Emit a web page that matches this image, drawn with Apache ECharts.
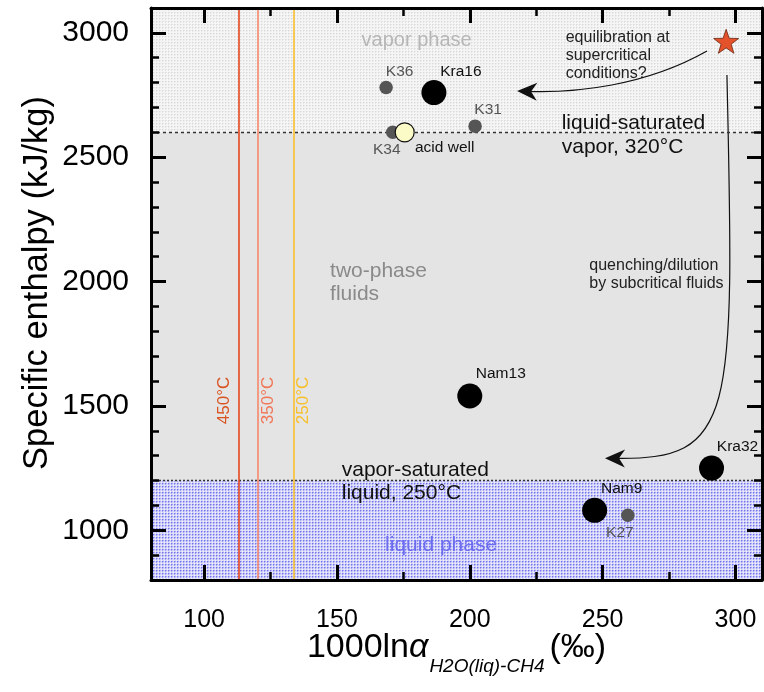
<!DOCTYPE html>
<html>
<head>
<meta charset="utf-8">
<style>
  html, body { margin: 0; padding: 0; background: #fff; }
  #chart { width: 764px; height: 692px; }
</style>
</head>
<body>
<div id="chart"></div>
<script src="https://cdn.jsdelivr.net/npm/echarts@6/dist/echarts.min.js"></script>
<script>
// axes
var xRange = [80, 310];
var yRange = [800, 3100];
var xMajorTicks = [100, 150, 200, 250, 300];
var xMinorTicks = [125, 175, 225, 275];
var yMajorTicks = [1000, 1500, 2000, 2500, 3000];
var yMinorTicks = [900, 1100, 1200, 1300, 1400, 1600, 1700, 1800, 1900,
                   2100, 2200, 2300, 2400, 2600, 2700, 2800, 2900];

// phase boundaries (kJ/kg)
var liquidSatEnthalpy = 1200; // vapor-saturated liquid, 250°C
var vaporSatEnthalpy = 2600;  // liquid-saturated vapor, 320°C

// equilibrium fractionation lines
var tempNames = ['450°C', '350°C', '250°C'];
var tempValues = [113.1, 120.2, 133.7];

// samples
var bigNames = ['Kra16', 'Nam13', 'Kra32', 'Nam9'];
var bigX = [186.5, 200, 291, 247];
var bigY = [2760, 1540, 1250, 1080];
var smallNames = ['K36', 'K34', 'K31', 'K27'];
var smallX = [168.5, 171, 202, 259.5];
var smallY = [2780, 2600, 2625, 1060];
var acidNames = ['acid well'];
var acidX = [175.5];
var acidY = [2600];
var superX = [296.5];
var superY = [2966];

// annotations (data coords)
var noteTexts = ['vapor phase', 'two-phase\nfluids', 'liquid phase',
  'liquid-saturated\nvapor, 320°C', 'vapor-saturated\nliquid, 250°C',
  'equilibration at\nsupercritical\nconditions?', 'quenching/dilution\nby subcritical fluids'];
var noteX = [180, 147.4, 189.2, 234.6, 151.8, 236.1, 245];
var noteY = [2971, 1994, 941, 2589, 1194, 2907, 2030];
var tempLabelX = [107.6, 124.1, 137.4];
var tempLabelY = [1522, 1522, 1522];
var arrowPaths = [
  [289.3, 2927, 266, 2786, 239.6, 2758, 217.8, 2766],
  [296.8, 2831, 299.8, 1443, 299.8, 1282, 250.9, 1290]
];

var font = 'Liberation Sans';
var tempColors = ['#e4471d', '#f6886a', '#f8c12e'];
var tempTextColors = ['#d9521f', '#f07656', '#f7bf2a'];

var noteStyle = [
  {color: '#b6b6b6', size: 20, align: 'center', lh: 22},
  {color: '#8a8a8a', size: 21, align: 'left', lh: 23},
  {color: '#6c6cf0', size: 21, align: 'center', lh: 23},
  {color: '#111', size: 21, align: 'left', lh: 24},
  {color: '#111', size: 21, align: 'left', lh: 23},
  {color: '#222', size: 16, align: 'left', lh: 18},
  {color: '#222', size: 16, align: 'left', lh: 18}
];

var labelOffset = {
  'K36': [13.5, -16], 'K34': [-6, 17], 'acid well': [40, 15], 'Kra16': [27, -21],
  'K31': [13, -16], 'Nam13': [31, -22], 'Kra32': [26, -21], 'Nam9': [27, -21.5], 'K27': [-8, 17]
};

function pattern(base, dots) {
  var c = document.createElement('canvas');
  c.width = 3; c.height = 3;
  var g = c.getContext('2d');
  g.fillStyle = base;
  g.fillRect(0, 0, 3, 3);
  dots.forEach(function (d) {
    g.fillStyle = d[2];
    g.fillRect(d[0], d[1], 1, 1);
  });
  return c;
}
var vaporFill = {image: pattern('#f5f5f5', [[0, 0, '#d9d9d9'], [1, 0, '#e7e7e7'], [0, 1, '#e7e7e7']]), repeat: 'repeat'};
var liquidFill = {image: pattern('#d8d8f8', [[0, 0, '#7272f0'], [1, 0, '#a8a8f4'], [0, 1, '#a8a8f4'], [2, 2, '#eeeefd']]), repeat: 'repeat'};

function axis(kind, pos, ticks, len, opts) {
  var range = kind === 'x' ? xRange : yRange;
  var a = {
    type: 'value', position: pos, min: range[0], max: range[1], z: 10,
    axisLine: {show: !!opts.line, onZero: false, lineStyle: {color: '#000', width: 3}},
    axisTick: {show: true, inside: true, length: len, customValues: ticks,
      lineStyle: {color: '#000', width: len > 10 ? 3 : 2.5}},
    axisLabel: {show: false},
    splitLine: {show: false}
  };
  if (opts.label) {
    a.axisLabel = Object.assign({show: true, customValues: ticks, color: '#000', fontFamily: font,
      formatter: function (v) { return String(v); }}, opts.label);
  }
  if (opts.name) {
    Object.assign(a, {nameMoveOverlap: false}, opts.name);
  }
  return a;
}

var chart = echarts.init(document.getElementById('chart'));

function points(names, xs, ys, style) {
  return {
    type: 'scatter', z: 5, silent: true,
    symbol: 'circle', symbolSize: style.size,
    itemStyle: Object.assign({opacity: 1}, style.item),
    label: {show: true, position: 'inside', formatter: '{b}', fontSize: 15.5, fontFamily: font,
      color: style.labelColor, textBorderWidth: 0},
    data: names.map(function (n, i) {
      return {name: n, value: [xs[i], ys[i]], label: {offset: labelOffset[n] || [0, 0]}};
    })
  };
}

var starPath = 'path://M12,0.8 L14.8,8.9 L23.4,9.1 L16.6,14.3 L19.1,22.5 L12,17.6 L4.9,22.5 L7.4,14.3 L0.6,9.1 L9.2,8.9 Z';

var option = {
  animation: false,
  textStyle: {fontFamily: font},
  grid: {left: 151, right: 2, top: 8, bottom: 112},
  xAxis: [
    axis('x', 'bottom', xMajorTicks, 15, {line: true, label: {fontSize: 25, margin: 28},
      name: {
        name: '{a|1000ln}{al|α}{b|H2O(liq)-CH4}{c|(‰)}',
        nameLocation: 'middle', nameGap: 51,
        nameTextStyle: {rich: {
          a: {fontSize: 34, fontFamily: font, color: '#000', lineHeight: 40, verticalAlign: 'top'},
          al: {fontSize: 34, fontFamily: font, fontStyle: 'italic', color: '#000', lineHeight: 40, verticalAlign: 'top'},
          b: {fontSize: 19, fontFamily: font, fontStyle: 'italic', color: '#000', lineHeight: 20,
              verticalAlign: 'top', padding: [26, 0, 0, 1]},
          c: {fontSize: 34, fontFamily: font, color: '#000', lineHeight: 40, verticalAlign: 'top', padding: [0, 0, 0, 5]}
        }}
      }}),
    axis('x', 'bottom', xMinorTicks, 8, {}),
    axis('x', 'top', xMajorTicks, 15, {line: true}),
    axis('x', 'top', xMinorTicks, 8, {})
  ],
  yAxis: [
    axis('y', 'left', yMajorTicks, 15, {line: true, label: {fontSize: 30, margin: 22},
      name: {
        name: 'Specific enthalpy (kJ/kg)', nameLocation: 'middle', nameGap: 96,
        nameTextStyle: {fontSize: 34.5, fontFamily: font, color: '#000', padding: [0, 0, 0, 22]}
      }}),
    axis('y', 'left', yMinorTicks, 8, {}),
    axis('y', 'right', yMajorTicks, 15, {line: true}),
    axis('y', 'right', yMinorTicks, 8, {})
  ],
  series: [
    {
      type: 'scatter', data: [], z: 1, silent: true,
      markArea: {
        silent: true, label: {show: false}, itemStyle: {borderWidth: 0},
        data: [
          [{yAxis: yRange[0], itemStyle: {color: liquidFill}}, {yAxis: liquidSatEnthalpy}],
          [{yAxis: liquidSatEnthalpy, itemStyle: {color: '#e4e4e4'}}, {yAxis: vaporSatEnthalpy}],
          [{yAxis: vaporSatEnthalpy, itemStyle: {color: vaporFill}}, {yAxis: yRange[1]}]
        ]
      }
    },
    {
      type: 'scatter', data: [], z: 2, silent: true,
      markLine: {
        silent: true, symbol: ['none', 'none'], label: {show: false},
        data: [
          {yAxis: vaporSatEnthalpy, lineStyle: {color: '#333', width: 1.4, type: [3, 3]}},
          {yAxis: liquidSatEnthalpy, lineStyle: {color: '#333', width: 1.4, type: [2, 2]}}
        ].concat(tempValues.map(function (v, i) {
          return {xAxis: v, lineStyle: {color: tempColors[i], width: 1.6, type: 'solid'}};
        }))
      }
    },
    {
      type: 'custom', z: 3, silent: true,
      data: noteX.map(function (x, i) { return [x, noteY[i]]; })
        .concat(tempLabelX.map(function (x, i) { return [x, tempLabelY[i]]; })),
      renderItem: function (params, api) {
        var i = params.dataIndex;
        var p = api.coord([api.value(0), api.value(1)]);
        var isTemp = i >= noteTexts.length;
        var s = isTemp ? {color: tempTextColors[i - noteTexts.length], size: 17, align: 'center', lh: 18} : noteStyle[i];
        return {
          type: 'text', x: p[0], y: p[1], rotation: isTemp ? Math.PI / 2 : 0,
          style: {
            text: isTemp ? tempNames[i - noteTexts.length] : noteTexts[i],
            fill: s.color, fontSize: s.size, fontFamily: font,
            align: s.align, verticalAlign: 'middle', lineHeight: s.lh
          }
        };
      }
    },
    {
      type: 'custom', z: 4, silent: true,
      data: arrowPaths,
      renderItem: function (params, api) {
        var pts = [0, 1, 2, 3].map(function (k) {
          return api.coord([api.value(2 * k), api.value(2 * k + 1)]);
        });
        var end = pts[3], c2 = pts[2];
        var ang = Math.atan2(end[1] - c2[1], end[0] - c2[0]);
        var cs = Math.cos(ang), sn = Math.sin(ang);
        var head = [[0, 0], [-20, -9], [-14, 0], [-20, 9]].map(function (q) {
          return [end[0] + q[0] * cs - q[1] * sn, end[1] + q[0] * sn + q[1] * cs];
        });
        return {
          type: 'group', children: [
            {type: 'bezierCurve', shape: {
              x1: pts[0][0], y1: pts[0][1], cpx1: pts[1][0], cpy1: pts[1][1],
              cpx2: pts[2][0], cpy2: pts[2][1], x2: end[0] - 10 * cs, y2: end[1] - 10 * sn},
              style: {stroke: '#111', lineWidth: 1.2, fill: 'none'}},
            {type: 'polygon', shape: {points: head}, style: {fill: '#111'}}
          ]
        };
      }
    },
    points(smallNames, smallX, smallY, {size: 13.5, item: {color: '#555'}, labelColor: '#555'}),
    points(bigNames, bigX, bigY, {size: 25, item: {color: '#000'}, labelColor: '#111'}),
    points(acidNames, acidX, acidY, {size: 19, item: {color: '#fbfbc8', borderColor: '#111', borderWidth: 1.2}, labelColor: '#111'}),
    {
      type: 'scatter', z: 6, silent: true, symbol: starPath, symbolSize: [25, 24],
      itemStyle: {color: '#e3522b', borderColor: '#6b2410', borderWidth: 0.8, opacity: 1},
      data: superX.map(function (x, i) { return [x, superY[i]]; })
    }
  ]
};
chart.setOption(option);
</script>
</body>
</html>
